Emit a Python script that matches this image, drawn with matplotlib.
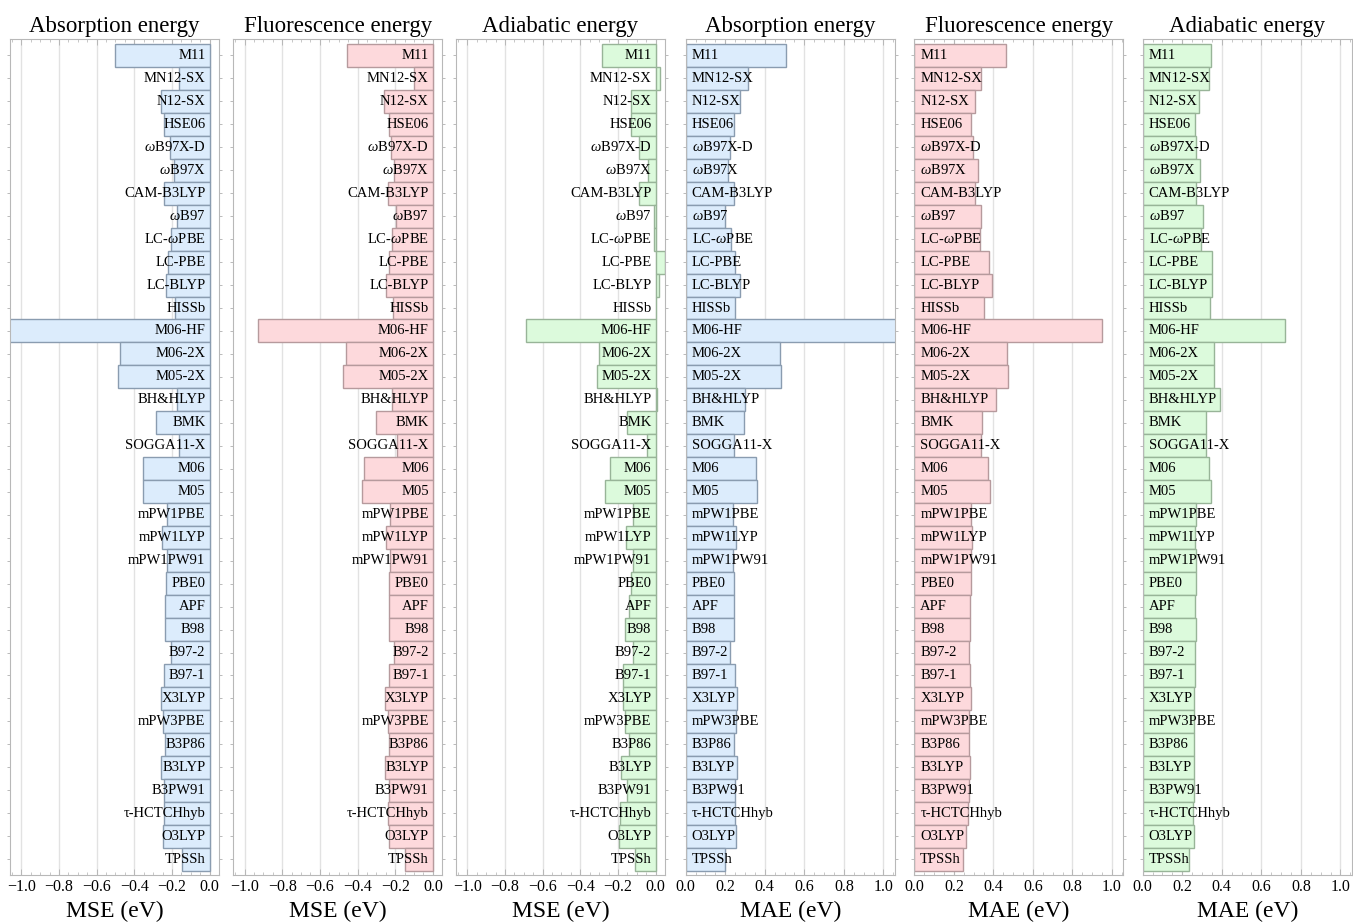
# MSE / MAE of DFT functionals for absorption, fluorescence and adiabatic energies
import numpy as np
import matplotlib
matplotlib.use("Agg")
import matplotlib.pyplot as plt
from matplotlib.ticker import MultipleLocator

# functionals, top to bottom
names=["M11","MN12-SX","N12-SX","HSE06",r"$\omega$B97X-D",r"$\omega$B97X","CAM-B3LYP",r"$\omega$B97",
       r"LC-$\omega$PBE","LC-PBE","LC-BLYP","HISSb","M06-HF","M06-2X","M05-2X","BH&HLYP","BMK","SOGGA11-X",
       "M06","M05","mPW1PBE","mPW1LYP","mPW1PW91","PBE0","APF","B98","B97-2","B97-1","X3LYP","mPW3PBE",
       "B3P86","B3LYP","B3PW91","τ-HCTCHhyb","O3LYP","TPSSh"]

# mean signed errors (eV)
mse_abs=[-0.50,-0.16,-0.26,-0.24,-0.21,-0.19,-0.24,-0.175,-0.205,-0.22,-0.23,-0.185,-1.12,-0.477,-0.486,-0.175,-0.284,-0.16,
         -0.355,-0.353,-0.227,-0.252,-0.227,-0.234,-0.236,-0.236,-0.204,-0.24,-0.259,-0.247,-0.236,-0.259,-0.241,-0.241,-0.248,-0.147]
mse_flu=[-0.458,-0.099,-0.257,-0.235,-0.225,-0.209,-0.241,-0.196,-0.218,-0.235,-0.25,-0.214,-0.929,-0.464,-0.476,-0.219,-0.301,-0.188,
         -0.366,-0.377,-0.228,-0.25,-0.228,-0.232,-0.232,-0.235,-0.209,-0.235,-0.253,-0.241,-0.234,-0.253,-0.235,-0.237,-0.235,-0.147]
mse_adi=[-0.284,0.025,-0.133,-0.133,-0.087,-0.042,-0.09,-0.011,-0.011,0.048,0.018,0.002,-0.686,-0.30,-0.309,0.009,-0.152,-0.046,
         -0.242,-0.267,-0.122,-0.157,-0.122,-0.131,-0.14,-0.164,-0.118,-0.173,-0.175,-0.161,-0.143,-0.184,-0.152,-0.187,-0.194,-0.108]

# mean absolute errors (eV)
mae_abs=[0.505,0.316,0.273,0.246,0.222,0.212,0.246,0.199,0.227,0.249,0.276,0.249,1.12,0.476,0.483,0.298,0.295,0.246,
         0.355,0.362,0.237,0.256,0.237,0.242,0.242,0.246,0.226,0.247,0.261,0.253,0.242,0.261,0.247,0.249,0.256,0.197]
mae_flu=[0.466,0.336,0.308,0.286,0.297,0.321,0.308,0.339,0.331,0.38,0.393,0.353,0.948,0.467,0.476,0.412,0.343,0.336,
         0.375,0.385,0.286,0.292,0.286,0.286,0.281,0.282,0.276,0.281,0.286,0.277,0.276,0.282,0.277,0.272,0.262,0.244]
mae_adi=[0.343,0.335,0.283,0.266,0.271,0.29,0.271,0.307,0.296,0.352,0.352,0.338,0.719,0.36,0.363,0.392,0.32,0.318,
         0.335,0.347,0.268,0.265,0.268,0.268,0.263,0.268,0.263,0.265,0.258,0.258,0.258,0.258,0.258,0.256,0.258,0.233]

titles=["Absorption energy","Fluorescence energy","Adiabatic energy"]*2
data=[mse_abs,mse_flu,mse_adi,mae_abs,mae_flu,mae_adi]

# plotstyle
plt.rcParams['font.family']=['Liberation Serif','DejaVu Serif']
plt.rcParams['mathtext.fontset']='custom'
plt.rcParams['mathtext.rm']='Liberation Serif'
plt.rcParams['mathtext.it']='Liberation Serif:italic'

fills=['#dcecfc','#fdd9dc','#dcfadc']
edges=['#8a9cb0','#b69a9d','#98b498']

W,H=1353,923
lefts=[10,233.3,456,685.7,914.3,1142.7]
pw=209.0
bot=1-875.3/H; ht=(875.3-39.3)/H

fig=plt.figure(figsize=(W/100,H/100),dpi=100)
y=np.arange(len(names))

for k in range(6):
    ax=fig.add_axes([lefts[k]/W,bot,pw/W,ht])
    mse=k<3
    ax.barh(y,data[k],height=1.0,color=fills[k%3],edgecolor=edges[k%3],lw=1.0,zorder=2)
    ax.set_ylim(len(names)-0.3,-0.7)
    if mse:
        ax.set_xlim(-1.06,0.05)
        ax.xaxis.set_major_locator(MultipleLocator(0.2))
        for i,n in enumerate(names):
            ax.text(-0.022,i,n,ha='right',va='center',fontsize=10.5,zorder=3)
        ax.set_xlabel("MSE (eV)",fontsize=17,labelpad=4)
    else:
        ax.set_xlim(0,1.057)
        ax.xaxis.set_major_locator(MultipleLocator(0.2))
        for i,n in enumerate(names):
            ax.text(0.03,i,n,ha='left',va='center',fontsize=10.5,zorder=3)
        ax.set_xlabel("MAE (eV)",fontsize=17,labelpad=4)
    ax.xaxis.set_minor_locator(MultipleLocator(0.05))
    ax.grid(axis='x',which='major',color='#e2e2e2',lw=1.0,zorder=0)
    ax.set_yticks(y); ax.set_yticklabels([])
    ax.tick_params(axis='y',direction='out',length=2,width=0.6,color='#b0b0b0',left=True,right=True)
    ax.tick_params(axis='x',which='both',direction='in',top=True,bottom=True,color='#b0b0b0',labelsize=11.5,pad=3)
    ax.tick_params(axis='x',which='major',length=4,width=0.6)
    ax.tick_params(axis='x',which='minor',length=2,width=0.5)
    for s in ax.spines.values():
        s.set_color('#b8b8b8'); s.set_linewidth(0.8)
    ax.set_title(titles[k],fontsize=16.5,pad=5)

fig.savefig("out.png",dpi=100)
